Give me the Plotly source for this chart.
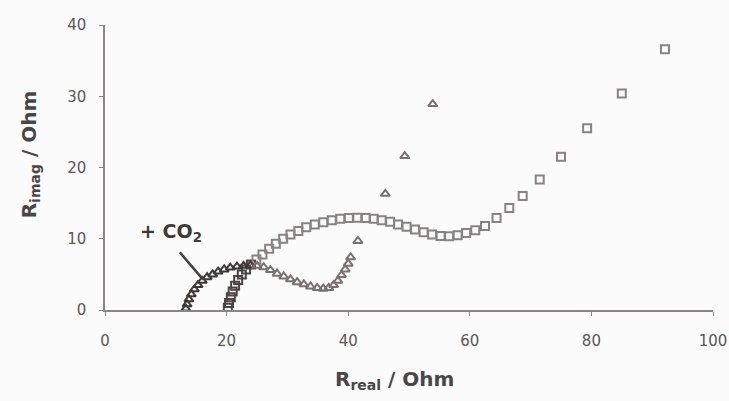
import plotly.graph_objects as go

# Squares series (without CO2)
sq_x = [20.2, 20.4, 20.7, 21.0, 21.4, 21.9, 22.5, 23.2, 24.0, 24.9, 25.9, 27.0, 28.1, 29.3,
        30.5, 31.8, 33.1, 34.5, 35.9, 37.3, 38.7, 40.1, 41.5, 42.9, 44.2, 45.5, 46.9, 48.2,
        49.6, 51.0, 52.4, 53.8, 55.2, 56.6, 58.0, 59.4, 60.9, 62.5, 64.4, 66.5, 68.7, 71.5,
        75.0, 79.3, 85.0, 92.1]
sq_y = [0.3, 1.0, 1.8, 2.6, 3.4, 4.2, 5.0, 5.7, 6.4, 7.1, 7.8, 8.6, 9.3, 10.0,
        10.6, 11.1, 11.6, 12.0, 12.3, 12.6, 12.8, 12.9, 12.95, 12.9, 12.8, 12.6, 12.4, 12.0,
        11.7, 11.3, 10.9, 10.6, 10.4, 10.35, 10.5, 10.8, 11.2, 11.8, 12.9, 14.3, 16.0, 18.3,
        21.5, 25.5, 30.4, 36.6]

# Triangles series (+ CO2)
tr_x = [13.3, 13.5, 13.8, 14.2, 14.7, 15.3, 16.0, 16.8, 17.7, 18.6, 19.6, 20.6, 21.7, 22.8,
        23.9, 25.0, 26.1, 27.2, 28.3, 29.4, 30.5, 31.6, 32.7, 33.8, 34.9, 35.9, 36.8, 37.6,
        38.3, 38.9, 39.5, 40.0, 40.4, 41.6, 46.1, 49.3, 53.9]
tr_y = [0.2, 0.8, 1.5, 2.2, 2.9, 3.5, 4.1, 4.6, 5.0, 5.4, 5.7, 5.95, 6.1, 6.2,
        6.25, 6.2, 6.0, 5.6, 5.1, 4.7, 4.3, 3.9, 3.6, 3.3, 3.1, 3.0, 3.1, 3.5,
        4.1, 4.9, 5.7, 6.5, 7.4, 9.7, 16.3, 21.6, 28.9]

x_ticks = [0, 20, 40, 60, 80, 100]
y_ticks = [0, 10, 20, 30, 40]

# styling: the high-frequency (dense) points print darker
sq_colors = ["#4a4444" if i < 9 else "#8a8282" for i in range(len(sq_x))]
tr_colors = ["#3e3838" if i < 15 else "#7a7272" for i in range(len(tr_x))]

FONT = "DejaVu Sans, Arial, sans-serif"

fig = go.Figure()
fig.add_trace(go.Scatter(
    x=sq_x, y=sq_y, mode="markers",
    marker=dict(symbol="square-open", size=8, color=sq_colors, line=dict(width=2)),
    showlegend=False))
fig.add_trace(go.Scatter(
    x=tr_x, y=tr_y, mode="markers",
    marker=dict(symbol="triangle-up-open", size=8, color=tr_colors, line=dict(width=2)),
    showlegend=False))

axis_common = dict(showgrid=False, zeroline=False, showline=True, linecolor="#8a8484",
                   linewidth=1.5, ticks="outside", ticklen=4, tickcolor="#8a8484",
                   automargin=False,
                   tickfont=dict(family=FONT, size=15, color="#5a5656"))
fig.update_xaxes(range=[0, 100], tickvals=x_ticks, ticklabelstandoff=12, **axis_common)
fig.update_yaxes(range=[0, 40], tickvals=y_ticks, ticklabelstandoff=10, **axis_common)

fig.add_shape(type="line", x0=12.3, y0=8.1, x1=16.0, y1=4.4,
              line=dict(color="#444040", width=2.5))
fig.add_annotation(x=10.9, y=10.9, text="<b>+ CO<sub>2</sub></b>", showarrow=False,
                   xanchor="center", yanchor="middle",
                   font=dict(family=FONT, size=19, color="#3e3a3a"))

title_font = dict(family=FONT, size=20, color="#4a4646")
fig.add_annotation(xref="paper", yref="paper", x=0.476, y=-0.246,
                   xanchor="center", yanchor="middle",
                   text="<b>R<sub>real</sub> / Ohm</b>", showarrow=False, font=title_font)
fig.add_annotation(xref="paper", yref="paper", x=-0.123, y=0.547, textangle=-90,
                   xanchor="center", yanchor="middle",
                   text="<b>R<sub>imag</sub> / Ohm</b>", showarrow=False, font=title_font)

fig.update_layout(width=729, height=401, margin=dict(l=105, r=16, t=25, b=91),
                  paper_bgcolor="#fbfbfb", plot_bgcolor="#fbfbfb")
fig.write_html("out.html", config={"displayModeBar": False},
               post_script="document.body.style.margin='0';document.body.style.overflow='hidden';")
